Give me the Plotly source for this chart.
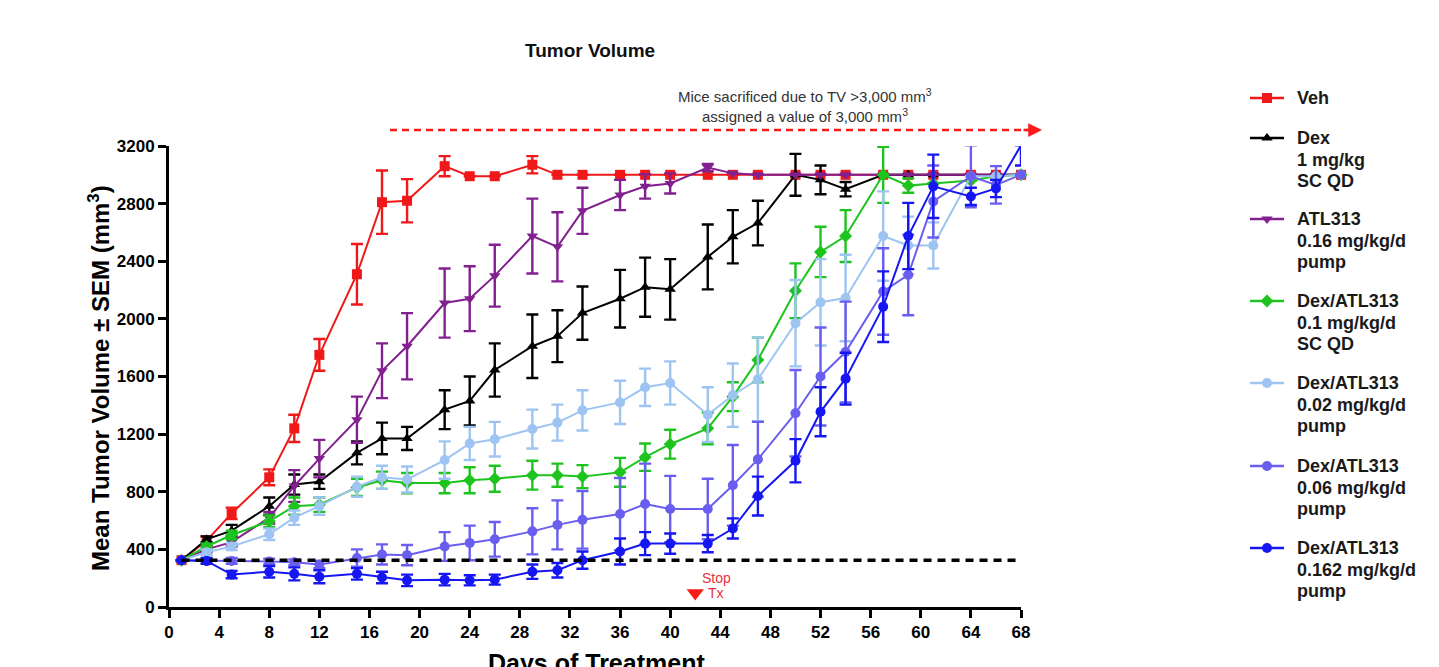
import plotly.graph_objects as go

days = [1, 3, 5, 8, 10, 12, 15, 17, 19, 22, 24, 26, 29, 31, 33, 36, 38, 40, 43, 45,
        47, 50, 52, 54, 57, 59, 61, 64, 66, 68]

veh_mean = [325, 460, 650, 900, 1240, 1750, 2310, 2810, 2820, 3060, 2990, 2990, 3070, 3000, 3000,
            3000, 3000, 3000, 3000, 3000, 3000, 3000, 3000, 3000, 3000, 3000, 3000, 3000, 3000, 3000]
veh_sem = [0, 30, 40, 55, 95, 110, 210, 220, 150, 70, 0, 0, 60, 0, 0,
           0, 0, 0, 0, 0, 0, 0, 0, 0, 0, 0, 0, 0, 0, 0]

dex_mean = [325, 470, 530, 700, 850, 870, 1070, 1170, 1170, 1370, 1430, 1645, 1810, 1880, 2040,
            2140, 2220, 2205, 2430, 2570, 2665, 3000, 2965, 2900, 3000, 3000, 3000, 3000, 3000, 3000]
dex_sem = [0, 20, 40, 60, 70, 50, 80, 110, 80, 135, 170, 185, 220, 180, 185,
           200, 205, 210, 225, 185, 155, 145, 100, 50, 0, 0, 0, 0, 0, 0]

atl_mean = [325, 400, 450, 620, 840, 1030, 1300, 1640, 1810, 2110, 2140, 2300, 2575, 2500, 2750,
            2860, 2920, 2940, 3050, 3010, 3000, 3000, 3000, 3000, 3000, 3000, 3000, 3000, 3000, 3000]
atl_sem = [0, 20, 30, 40, 110, 130, 160, 190, 230, 240, 225, 215, 260, 240, 160,
           105, 85, 70, 25, 0, 0, 0, 0, 0, 0, 0, 0, 0, 0, 0]

g01_mean = [325, 420, 500, 595, 700, 710, 830, 880, 860, 860, 880, 890, 915, 915, 905,
            935, 1040, 1130, 1240, 1460, 1715, 2195, 2465, 2575, 3000, 2925, 2940, 2960, 2990, 3000]
g01_sem = [0, 20, 30, 40, 60, 50, 60, 60, 70, 70, 90, 90, 100, 80, 80,
           100, 95, 100, 110, 100, 155, 190, 175, 180, 195, 50, 0, 0, 0, 0]

p002_mean = [325, 380, 420, 505, 620, 700, 835, 900, 885, 1020, 1135, 1165, 1235, 1280, 1365,
             1420, 1525, 1555, 1335, 1470, 1580, 1970, 2115, 2145, 2575, 2510, 2510, 2990, 2990, 3000]
p002_sem = [0, 20, 25, 40, 50, 60, 70, 80, 90, 130, 115, 120, 135, 125, 140,
            150, 130, 150, 190, 220, 290, 300, 300, 300, 310, 200, 160, 0, 0, 0]

p006_mean = [325, 320, 320, 315, 310, 295, 340, 365, 360, 420, 445, 470, 525, 570, 605,
             645, 715, 680, 680, 845, 1025, 1345, 1600, 1770, 2190, 2305, 2815, 2990, 2930, 3000]
p006_sem = [0, 15, 20, 20, 20, 25, 60, 70, 70, 100, 120, 120, 160, 170, 200,
            250, 280, 230, 210, 280, 260, 300, 340, 350, 300, 280, 250, 215, 130, 0]

p0162_mean = [325, 320, 225, 245, 230, 210, 230, 205, 185, 190, 185, 190, 245, 255, 325,
              385, 440, 440, 440, 545, 770, 1015, 1355, 1585, 2085, 2575, 2920, 2850, 2905, 3205]
p0162_sem_plus = [0, 20, 25, 40, 45, 45, 40, 40, 40, 40, 35, 35, 50, 50, 60,
                  90, 80, 70, 60, 70, 135, 150, 170, 180, 245, 230, 220, 60, 60, 0]
p0162_sem_minus = [0, 20, 25, 40, 45, 45, 40, 40, 40, 40, 35, 35, 50, 50, 60,
                   90, 80, 70, 60, 70, 135, 150, 170, 180, 245, 230, 220, 60, 60, 140]

baseline_days = [1, 68]
baseline_value = [325, 325]

stop_day = [42]
stop_value = [97]

x_ticks = list(range(0, 69, 4))
y_ticks = list(range(0, 3201, 400))
X_MAX = 68
Y_MAX = 3200

W, H = 1439, 667
OFF = 8                                 # page body margin: figure pixel = view pixel - OFF
PL, PR, PT, PB = 169, 1021, 146, 607   # plot-area box in view pixels
FONT = "Liberation Sans, Arial, sans-serif"

legend_lines = [
    ["Veh"],
    ["Dex", "1 mg/kg", "SC QD"],
    ["ATL313", "0.16 mg/kg/d", "pump"],
    ["Dex/ATL313", "0.1 mg/kg/d", "SC QD"],
    ["Dex/ATL313", "0.02 mg/kg/d", "pump"],
    ["Dex/ATL313", "0.06 mg/kg/d", "pump"],
    ["Dex/ATL313", "0.162 mg/kg/d", "pump"],
]
legend_top = [98, 138, 219, 301, 383, 466, 548]   # first-line centre (view px)
LEG_LINE = 21.5

series = [
    (veh_mean, veh_sem, None, "#f01818", "square"),
    (dex_mean, dex_sem, None, "#000000", "triangle-up"),
    (atl_mean, atl_sem, None, "#82208f", "triangle-down"),
    (g01_mean, g01_sem, None, "#1ec41e", "diamond"),
    (p002_mean, p002_sem, None, "#9ec4f2", "circle"),
    (p006_mean, p006_sem, None, "#6a5ef0", "circle"),
    (p0162_mean, p0162_sem_plus, p0162_sem_minus, "#1616f2", "circle"),
]

fig = go.Figure()

for i, (mean, sem, semm, color, sym) in enumerate(series):
    err = dict(type="data", array=sem, color=color, thickness=2.4, width=6, visible=True)
    if semm is not None:
        err["symmetric"] = False
        err["arrayminus"] = semm
    fig.add_trace(go.Scatter(
        x=days, y=mean, name=" / ".join(legend_lines[i]), mode="lines+markers",
        line=dict(color=color, width=2),
        marker=dict(color=color, symbol=sym, size=10),
        error_y=err, cliponaxis=False, showlegend=False,
    ))

fig.add_trace(go.Scatter(
    x=baseline_days, y=baseline_value, mode="lines",
    line=dict(color="black", width=3.5, dash="8px,6px"),
    showlegend=False, hoverinfo="skip",
))

fig.add_trace(go.Scatter(
    x=stop_day, y=stop_value, mode="markers",
    marker=dict(symbol="triangle-down", size=15, color="#ff1a1a"),
    showlegend=False, cliponaxis=False,
))

# manual legend on an overlay axis measured in view pixels
annotations = []
for i, (mean, sem, semm, color, sym) in enumerate(series):
    yc = legend_top[i]
    fig.add_trace(go.Scatter(
        x=[1250, 1284], y=[yc, yc], mode="lines", line=dict(color=color, width=2.5),
        xaxis="x2", yaxis="y2", showlegend=False, hoverinfo="skip",
    ))
    fig.add_trace(go.Scatter(
        x=[1267], y=[yc], mode="markers", marker=dict(color=color, symbol=sym, size=10),
        xaxis="x2", yaxis="y2", showlegend=False, hoverinfo="skip",
    ))
    for k, txt in enumerate(legend_lines[i]):
        annotations.append(dict(
            text=txt, x=1295, y=yc + k * LEG_LINE, xref="x2", yref="y2",
            xanchor="left", yanchor="middle", showarrow=False,
            font=dict(family=FONT, size=18, color="#1a1a1a", weight="bold")))

annotations += [
    dict(text="Tumor Volume", x=590, y=50, xref="x2", yref="y2", showarrow=False,
         font=dict(family=FONT, size=19, color="#111111", weight="bold")),
    dict(text="Mice sacrificed due to TV >3,000 mm<sup>3</sup>", x=805, y=95,
         xref="x2", yref="y2", showarrow=False,
         font=dict(family=FONT, size=15, color="#333333")),
    dict(text="assigned a value of 3,000 mm<sup>3</sup>", x=805, y=115,
         xref="x2", yref="y2", showarrow=False,
         font=dict(family=FONT, size=15, color="#333333")),
    dict(text="", x=1042, y=130, xref="x2", yref="y2",
         showarrow=True, ax=-20, ay=0, arrowhead=2, arrowsize=1.1, arrowwidth=2.5,
         arrowcolor="#ff1a1a"),
    dict(text="Mean Tumor Volume \u00b1 SEM (mm<sup>3</sup>)", x=99, y=378,
         xref="x2", yref="y2", textangle=-90, showarrow=False,
         font=dict(family=FONT, size=24, color="black", weight="bold")),
    dict(text="Days of Treatment", x=596, y=647, xref="x2", yref="y2",
         yanchor="top", showarrow=False,
         font=dict(family=FONT, size=25, color="black", weight="bold")),
    dict(text="Stop", x=716, y=578, xref="x2", yref="y2", showarrow=False,
         font=dict(family=FONT, size=14, color="#e8303a")),
    dict(text="Tx", x=716, y=593, xref="x2", yref="y2", showarrow=False,
         font=dict(family=FONT, size=14, color="#e8303a")),
]

shapes = [
    dict(type="line", xref="x2", yref="y2", x0=390, x1=1030, y0=130, y1=130,
         line=dict(color="#ff1a1a", width=2.5, dash="7px,5px")),
]

axis_common = dict(showline=True, linecolor="black", linewidth=3, ticks="outside",
                   ticklen=8, tickwidth=2.5, tickcolor="black", showgrid=False,
                   zeroline=False,
                   tickfont=dict(family=FONT, size=17, color="black", weight="bold"))

fig.update_layout(
    width=W, height=H,
    paper_bgcolor="white", plot_bgcolor="rgba(0,0,0,0)",
    margin=dict(l=0, r=0, t=0, b=0, autoexpand=False),
    xaxis=dict(range=[0, X_MAX], tickvals=x_ticks,
               domain=[(PL - OFF) / W, (PR - OFF) / W], **axis_common),
    yaxis=dict(range=[0, Y_MAX], tickvals=y_ticks,
               domain=[1 - (PB - OFF) / H, 1 - (PT - OFF) / H], **axis_common),
    xaxis2=dict(range=[OFF, W + OFF], domain=[0, 1], visible=False, anchor="y2"),
    yaxis2=dict(range=[H + OFF, OFF], domain=[0, 1], visible=False, anchor="x2"),
    annotations=annotations,
    shapes=shapes,
    showlegend=False,
)

fig.write_html("out.html")
